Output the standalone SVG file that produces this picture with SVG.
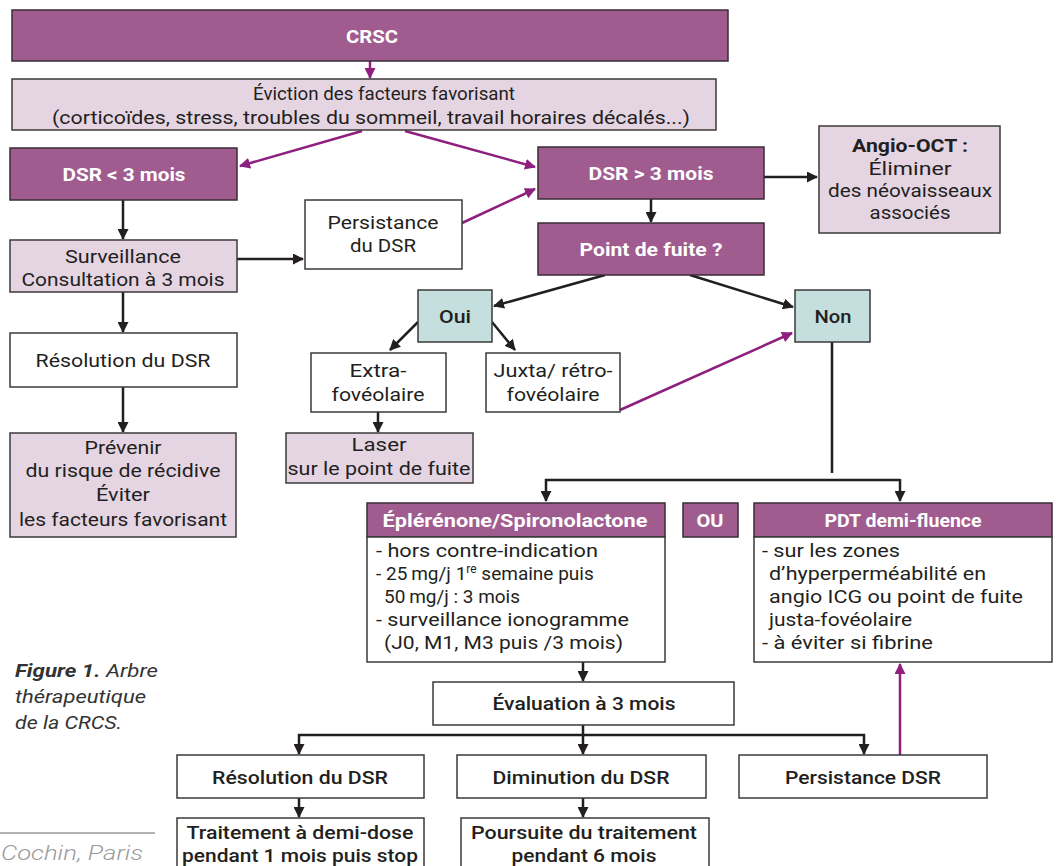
<svg xmlns="http://www.w3.org/2000/svg" width="1056" height="866" viewBox="0 0 1056 866">
<style>
.hd{fill:#a05c8f;stroke:#3a2d37;stroke-width:1.5}
.lt{fill:#e5d5e3;stroke:#3a3a3a;stroke-width:1.5}
.wh{fill:#fff;stroke:#3a3a3a;stroke-width:1.5}
.tl{fill:#c5dede;stroke:#3a3a3a;stroke-width:1.5}
text{font-family:Roboto,"Liberation Sans",sans-serif;font-size:19px;fill:#231f20}
.c{text-anchor:middle}
.w{fill:#fff;font-weight:bold}
.b{font-weight:bold}
.m{font-weight:500}
.k{stroke:#231f20;stroke-width:2.5;fill:none}
.p{stroke:#8e1f7e;stroke-width:2.5;fill:none}
.cap{font-size:19px;font-style:italic;fill:#333}
</style>
<defs>
<marker id="ak" markerUnits="userSpaceOnUse" markerWidth="11" markerHeight="11" refX="10" refY="5.5" orient="auto"><path d="M0,0 L11,5.5 L0,11 z" fill="#231f20"/></marker>
<marker id="ap" markerUnits="userSpaceOnUse" markerWidth="11" markerHeight="11" refX="10" refY="5.5" orient="auto"><path d="M0,0 L11,5.5 L0,11 z" fill="#8e1f7e"/></marker>
</defs>
<rect width="1056" height="866" fill="#fff"/>

<g id="connectors">
<path class="p" d="M370,61 L370,78" marker-end="url(#ap)"/>
<path class="p" d="M362,131 L240,166" marker-end="url(#ap)"/>
<path class="p" d="M405,131 L535,167" marker-end="url(#ap)"/>
<path class="p" d="M462,223 L535,189" marker-end="url(#ap)"/>
<path class="p" d="M620,410 L792,333" marker-end="url(#ap)"/>
<path class="p" d="M900,755 L900,664" marker-end="url(#ap)"/>
<path class="k" d="M123,200 L123,239" marker-end="url(#ak)"/>
<path class="k" d="M237,259 L303,259" marker-end="url(#ak)"/>
<path class="k" d="M123,292 L123,332" marker-end="url(#ak)"/>
<path class="k" d="M123,387 L123,432" marker-end="url(#ak)"/>
<path class="k" d="M764,177 L817,177" marker-end="url(#ak)"/>
<path class="k" d="M651,199 L651,222" marker-end="url(#ak)"/>
<path class="k" d="M605,275 L494,306" marker-end="url(#ak)"/>
<path class="k" d="M690,275 L793,307" marker-end="url(#ak)"/>
<path class="k" d="M418,322 L390,350" marker-end="url(#ak)"/>
<path class="k" d="M492,322 L515,350" marker-end="url(#ak)"/>
<path class="k" d="M378,412 L378,432" marker-end="url(#ak)"/>
<path class="k" d="M832,342 L832,473"/>
<path class="k" d="M900,480 L546,480 L546,501" marker-end="url(#ak)"/>
<path class="k" d="M900,479 L900,501" marker-end="url(#ak)"/>
<path class="k" d="M583,662 L583,681" marker-end="url(#ak)"/>
<path class="k" d="M583,725 L583,754" marker-end="url(#ak)"/>
<path class="k" d="M583,735 L299,735 L299,754" marker-end="url(#ak)"/>
<path class="k" d="M583,735 L864,735 L864,754" marker-end="url(#ak)"/>
<path class="k" d="M299,798 L299,817" marker-end="url(#ak)"/>
<path class="k" d="M583,798 L583,817" marker-end="url(#ak)"/>
</g>

<g id="crsc"><rect class="hd" x="12" y="10" width="716" height="51"/><text class="c w" x="372" y="43" font-size="20" textLength="52" lengthAdjust="spacingAndGlyphs">CRSC</text></g>
<g id="eviction"><rect class="lt" x="12" y="79" width="704" height="51"/>
<text class="c" x="384" y="100" textLength="262" lengthAdjust="spacingAndGlyphs">Éviction des facteurs favorisant</text>
<text class="c" x="371" y="124" textLength="638" lengthAdjust="spacingAndGlyphs">(corticoïdes, stress, troubles du sommeil, travail horaires décalés...)</text></g>
<g id="dsr-inf"><rect class="hd" x="10" y="148" width="227" height="52"/><text class="c w" x="124" y="181" textLength="123" lengthAdjust="spacingAndGlyphs">DSR &lt; 3 mois</text></g>
<g id="surveillance"><rect class="lt" x="10" y="240" width="227" height="52"/>
<text class="c" x="123" y="263" textLength="116" lengthAdjust="spacingAndGlyphs">Surveillance</text>
<text class="c" x="123" y="286" textLength="203" lengthAdjust="spacingAndGlyphs">Consultation à 3 mois</text></g>
<g id="resolution-1"><rect class="wh" x="10" y="333" width="227" height="54"/><text class="c" x="123" y="367" textLength="175" lengthAdjust="spacingAndGlyphs">Résolution du DSR</text></g>
<g id="prevenir"><rect class="lt" x="10" y="433" width="226" height="104"/>
<text class="c" x="123" y="454" textLength="77" lengthAdjust="spacingAndGlyphs">Prévenir</text>
<text class="c" x="123" y="477" textLength="195" lengthAdjust="spacingAndGlyphs">du risque de récidive</text>
<text class="c" x="123" y="501" textLength="54" lengthAdjust="spacingAndGlyphs">Éviter</text>
<text class="c" x="123" y="526" textLength="208" lengthAdjust="spacingAndGlyphs">les facteurs favorisant</text></g>
<g id="persistance-1"><rect class="wh" x="305" y="200" width="157" height="69"/>
<text class="c" x="383" y="229" textLength="111" lengthAdjust="spacingAndGlyphs">Persistance</text>
<text class="c" x="383" y="252" textLength="66" lengthAdjust="spacingAndGlyphs">du DSR</text></g>
<g id="dsr-sup"><rect class="hd" x="538" y="147" width="226" height="52"/><text class="c w" x="651" y="180" textLength="125" lengthAdjust="spacingAndGlyphs">DSR &gt; 3 mois</text></g>
<g id="angio"><rect class="lt" x="819" y="126" width="181" height="107"/>
<text class="c b" x="910" y="152" textLength="116" lengthAdjust="spacingAndGlyphs">Angio-OCT :</text>
<text class="c" x="910" y="175" textLength="83" lengthAdjust="spacingAndGlyphs">Éliminer</text>
<text class="c" x="910" y="197" textLength="164" lengthAdjust="spacingAndGlyphs">des néovaisseaux</text>
<text class="c" x="910" y="219" textLength="81" lengthAdjust="spacingAndGlyphs">associés</text></g>
<g id="point"><rect class="hd" x="538" y="223" width="226" height="52"/><text class="c w" x="651" y="256" textLength="143" lengthAdjust="spacingAndGlyphs">Point de fuite ?</text></g>
<g id="oui"><rect class="tl" x="418" y="290" width="74" height="52"/><text class="c m" x="455" y="323" textLength="32" lengthAdjust="spacingAndGlyphs">Oui</text></g>
<g id="non"><rect class="tl" x="795" y="290" width="75" height="52"/><text class="c m" x="833" y="323" textLength="37" lengthAdjust="spacingAndGlyphs">Non</text></g>
<g id="extra"><rect class="wh" x="311" y="353" width="135" height="59"/>
<text class="c" x="378" y="377" textLength="57" lengthAdjust="spacingAndGlyphs">Extra-</text>
<text class="c" x="378" y="401" textLength="93" lengthAdjust="spacingAndGlyphs">fovéolaire</text></g>
<g id="juxta"><rect class="wh" x="486" y="353" width="134" height="59"/>
<text class="c" x="553" y="377" textLength="119" lengthAdjust="spacingAndGlyphs">Juxta/ rétro-</text>
<text class="c" x="553" y="401" textLength="93" lengthAdjust="spacingAndGlyphs">fovéolaire</text></g>
<g id="laser"><rect class="lt" x="286" y="433" width="187" height="50"/>
<text class="c" x="379" y="451" textLength="55" lengthAdjust="spacingAndGlyphs">Laser</text>
<text class="c" x="379" y="475" textLength="183" lengthAdjust="spacingAndGlyphs">sur le point de fuite</text></g>
<g id="eplerenone"><rect class="hd" x="367" y="503" width="298" height="34"/><rect class="wh" x="367" y="537" width="298" height="125"/>
<text class="c w" x="515" y="527" textLength="265" lengthAdjust="spacingAndGlyphs">Éplérénone/Spironolactone</text>
<text x="376" y="557" textLength="222" lengthAdjust="spacingAndGlyphs">- hors contre-indication</text>
<text x="376" y="580">- 25&#8201;mg/j 1<tspan font-size="12" dy="-7">re</tspan><tspan dy="7"> semaine puis</tspan></text>
<text x="384" y="603" textLength="136" lengthAdjust="spacingAndGlyphs">50&#8201;mg/j : 3 mois</text>
<text x="376" y="626" textLength="253" lengthAdjust="spacingAndGlyphs">- surveillance ionogramme</text>
<text x="384" y="649" textLength="239" lengthAdjust="spacingAndGlyphs">(J0, M1, M3 puis /3 mois)</text></g>
<g id="ou"><rect class="hd" x="683" y="503" width="55" height="34"/><text class="c w" x="710" y="527" textLength="27" lengthAdjust="spacingAndGlyphs">OU</text></g>
<g id="pdt"><rect class="hd" x="754" y="503" width="298" height="34"/><rect class="wh" x="754" y="537" width="298" height="125"/>
<text class="c w" x="903" y="527" textLength="157" lengthAdjust="spacingAndGlyphs">PDT demi-fluence</text>
<text x="762" y="557" textLength="138" lengthAdjust="spacingAndGlyphs">- sur les zones</text>
<text x="769" y="580" textLength="217" lengthAdjust="spacingAndGlyphs">d’hyperperméabilité en</text>
<text x="769" y="603" textLength="254" lengthAdjust="spacingAndGlyphs">angio ICG ou point de fuite</text>
<text x="769" y="626" textLength="143" lengthAdjust="spacingAndGlyphs">justa-fovéolaire</text>
<text x="762" y="649" textLength="171" lengthAdjust="spacingAndGlyphs">- à éviter si fibrine</text></g>
<g id="evaluation"><rect class="wh" x="433" y="682" width="301" height="43"/><text class="c m" x="584" y="710" textLength="183" lengthAdjust="spacingAndGlyphs">Évaluation à 3 mois</text></g>
<g id="resolution-2"><rect class="wh" x="177" y="755" width="247" height="43"/><text class="c m" x="300" y="784" textLength="176" lengthAdjust="spacingAndGlyphs">Résolution du DSR</text></g>
<g id="diminution"><rect class="wh" x="457" y="755" width="249" height="43"/><text class="c m" x="581" y="784" textLength="177" lengthAdjust="spacingAndGlyphs">Diminution du DSR</text></g>
<g id="persistance-2"><rect class="wh" x="739" y="755" width="248" height="43"/><text class="c m" x="863" y="784" textLength="156" lengthAdjust="spacingAndGlyphs">Persistance DSR</text></g>
<g id="traitement"><rect class="wh" x="177" y="818" width="247" height="60"/>
<text class="c m" x="300" y="839" textLength="227" lengthAdjust="spacingAndGlyphs">Traitement à demi-dose</text>
<text class="c m" x="300" y="862" textLength="236" lengthAdjust="spacingAndGlyphs">pendant 1 mois puis stop</text></g>
<g id="poursuite"><rect class="wh" x="461" y="818" width="248" height="60"/>
<text class="c m" x="584" y="839" textLength="226" lengthAdjust="spacingAndGlyphs">Poursuite du traitement</text>
<text class="c m" x="584" y="862" textLength="145" lengthAdjust="spacingAndGlyphs">pendant 6 mois</text></g>

<g id="caption">
<text class="cap" x="15" y="677" textLength="143" lengthAdjust="spacingAndGlyphs"><tspan font-weight="bold">Figure 1.</tspan> Arbre</text>
<text class="cap" x="15" y="703" textLength="131" lengthAdjust="spacingAndGlyphs">thérapeutique</text>
<text class="cap" x="15" y="729" textLength="107" lengthAdjust="spacingAndGlyphs">de la CRCS.</text>
<line x1="0" y1="833" x2="155" y2="833" stroke="#9a9a9a" stroke-width="1.5"/>
<text x="1" y="860" font-style="italic" font-weight="300" style="fill:#9a9a9a;font-size:20px" textLength="142" lengthAdjust="spacingAndGlyphs">Cochin, Paris</text>
</g>
</svg>
